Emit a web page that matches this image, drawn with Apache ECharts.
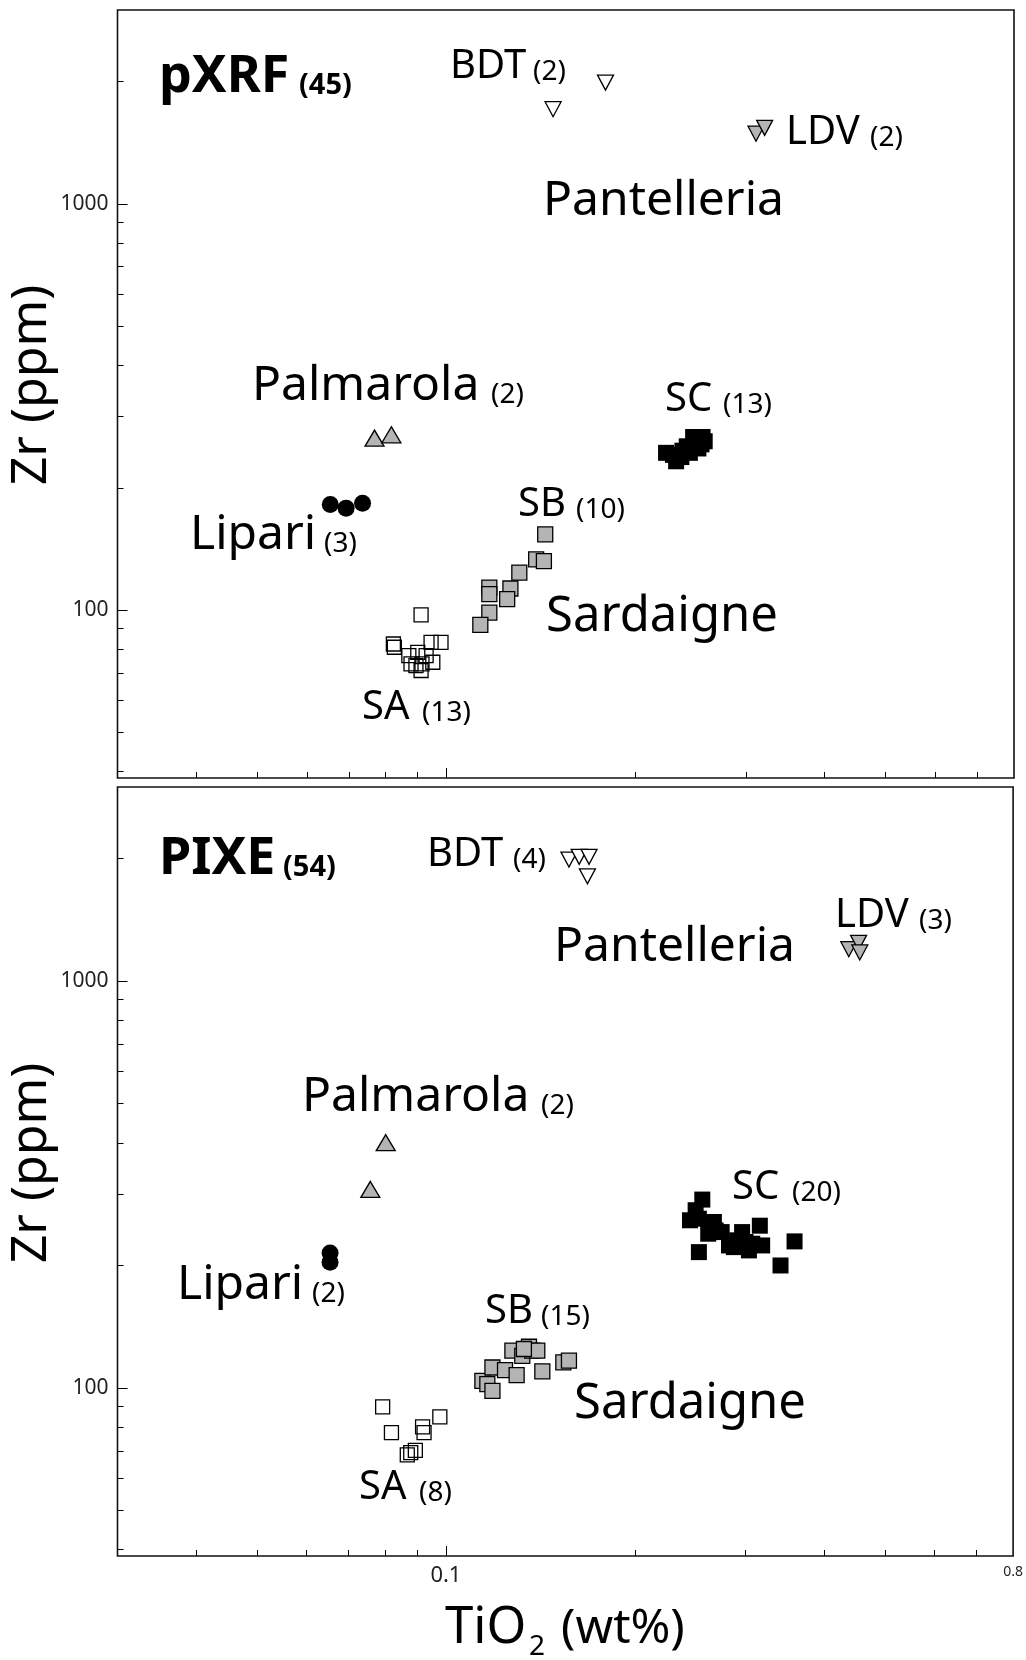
<!DOCTYPE html>
<html>
<head>
<meta charset="utf-8">
<script src="https://cdn.jsdelivr.net/npm/echarts@6/dist/echarts.min.js"></script>
<style>
  html, body { margin: 0; padding: 0; background: #fff; }
  #chart { width: 1026px; height: 1660px; }
</style>
</head>
<body>
<div id="chart"></div>
<script>
// TiO2 (wt%), Zr (ppm)
var pxrfSA = [[0.0912, 97.3], [0.0824, 82.5], [0.0827, 81.0], [0.0872, 77.2], [0.0901, 78.7], [0.0946, 83.3], [0.0981, 83.3],
	[0.0879, 73.7], [0.0915, 73.7], [0.0952, 74.4], [0.0912, 71.0], [0.0895, 73.0], [0.0929, 77.2]];
var pxrfSB = [[0.1437, 153.6], [0.1390, 133.3], [0.1430, 132.0], [0.1307, 123.7], [0.1265, 113.0], [0.1171, 113.6],
	[0.1171, 109.4], [0.1250, 106.4], [0.1171, 98.6], [0.1133, 91.9]];
var pxrfSC = [[0.2237, 243.8], [0.2294, 241], [0.2321, 232.4], [0.2366, 238], [0.2375, 246.8], [0.2413, 253], [0.2441, 243.8],
	[0.2470, 266.7], [0.2489, 258.8], [0.2518, 249.9], [0.2547, 255.8], [0.2577, 260.3], [0.2557, 266.7]];
var pxrfLipari = [[0.0654, 181.8], [0.0693, 178.2], [0.0736, 183.2]];
var pxrfPalmarola = [[0.0769, 265], [0.0818, 270]];
var pxrfBDT = [[0.1792, 1988], [0.1479, 1710]];
var pxrfLDV = [[0.311, 1488], [0.321, 1538]];

var pixeSA = [[0.0793, 89.8], [0.0819, 77.6], [0.0918, 80.2], [0.0923, 77.6], [0.0978, 84.8], [0.0868, 68.4], [0.0894, 70.2], [0.0879, 69.3]];
var pixeSB = [[0.1143, 104.0], [0.1164, 102.1], [0.1186, 98.3], [0.1186, 112.2], [0.1242, 110.6], [0.1296, 107.5], [0.1276, 123.4],
	[0.1323, 119.9], [0.1356, 126.2], [0.1372, 123.4], [0.1398, 123.4], [0.1424, 109.8], [0.1538, 115.5], [0.1570, 116.6], [0.1331, 124.6]];
var pixeSC = [[0.2560, 290.3], [0.2498, 273.3], [0.2447, 258.2], [0.2528, 260.5], [0.2671, 255.7], [0.2616, 239.3], [0.2748, 241.5],
	[0.2823, 223.9], [0.2962, 241.5], [0.2909, 230.5], [0.3037, 217.7], [0.2999, 228.3], [0.3161, 250.4], [0.3188, 223.9],
	[0.2528, 215.6], [0.3410, 199.9], [0.3590, 229.1], [0.2688, 243.8], [0.2875, 221.8], [0.3074, 226.1]];
var pixeLipari = [[0.0654, 214.5], [0.0654, 203.7]];
var pixePalmarola = [[0.0802, 400.6], [0.0758, 307.5]];
var pixeBDT = [[0.157, 1990], [0.163, 2020], [0.169, 2020], [0.168, 1810]];
var pixeLDV = [[0.438, 1198], [0.454, 1242], [0.456, 1176]];

// axis ticks
var xMajorTicks = [0.1];
var xMinorTicks = [0.04, 0.05, 0.06, 0.07, 0.08, 0.09, 0.2, 0.3, 0.4, 0.5, 0.6, 0.7];
var xTickLabels = [0.1, 0.8];
var yMajorTicks = [100, 1000];
var yMinorTicks = [40, 50, 60, 70, 80, 90, 200, 300, 400, 500, 600, 700, 800, 900, 2000];
var yTickLabels = [100, 1000];

var FONT = 'Noto Sans';
var GREY = '#b4b4b4';
var X_MIN = 0.03, X_MAX = 0.8, Y_MIN = 38.6, Y_MAX = 3000;

var chart = echarts.init(document.getElementById('chart'), null, { renderer: 'canvas' });

function xAxisFor(grid, minor, labels) {
	return {
		type: 'log', gridIndex: grid, position: 'bottom', min: X_MIN, max: X_MAX,
		axisLine: { show: false, onZero: false },
		splitLine: { show: false },
		axisTick: { show: true, inside: true, length: minor ? 6 : 10, customValues: minor ? xMinorTicks : xMajorTicks,
			lineStyle: { color: '#000', width: 1 } },
		axisLabel: labels ? {
			show: true, customValues: xTickLabels, margin: 9,
			formatter: function(v) { return v < 0.5 ? '{a|0.1}' : '{b|0.8}'; },
			rich: {
				a: { fontFamily: FONT, fontSize: 22, color: '#222' },
				b: { fontFamily: FONT, fontSize: 14, color: '#222' }
			}
		} : { show: false }
	};
}

function yAxisFor(grid, minor) {
	return {
		type: 'log', gridIndex: grid, position: 'left', min: Y_MIN, max: Y_MAX,
		axisLine: { show: false, onZero: false },
		splitLine: { show: false },
		axisTick: { show: true, inside: true, length: minor ? 6 : 10, customValues: minor ? yMinorTicks : yMajorTicks,
			lineStyle: { color: '#000', width: 1 } },
		axisLabel: minor ? { show: false } : {
			show: true, customValues: yTickLabels, margin: 9,
			fontFamily: FONT, fontSize: 21, color: '#222',
			formatter: function(v) { return String(Math.round(v)); }
		}
	};
}

function pts(data, grid, symbol, size, fill, rotate, border) {
	return {
		type: 'scatter', xAxisIndex: grid * 2, yAxisIndex: grid * 2,
		data: data, symbol: symbol, symbolSize: size, symbolRotate: rotate || 0,
		itemStyle: { color: fill, borderColor: '#000', borderWidth: border == null ? 1.3 : border, opacity: 1 },
		silent: true, z: 5
	};
}

// one text run, placed by its left edge and baseline
function txt(x, baseline, text, size, bold) {
	return {
		type: 'text', x: x, y: baseline - 0.388 * size, silent: true,
		style: { text: text, fontFamily: FONT, fontSize: size, fontWeight: bold ? 'bold' : 'normal',
			fill: '#000', align: 'left', verticalAlign: 'middle' }
	};
}

var labels = [
	// pXRF panel
	txt(159, 97, 'pXRF', 52, true), txt(299, 97, '(45)', 29, true),
	txt(450, 82, 'BDT', 40), txt(533, 83, '(2)', 28),
	txt(786, 148, 'LDV', 40), txt(870, 149, '(2)', 28),
	txt(543, 220, 'Pantelleria', 48),
	txt(252, 405, 'Palmarola', 48), txt(491, 406, '(2)', 28),
	txt(665, 415, 'SC', 40), txt(723, 416, '(13)', 28),
	txt(190, 554, 'Lipari', 48), txt(324, 555, '(3)', 28),
	txt(518, 520, 'SB', 40), txt(576, 521, '(10)', 28),
	txt(546, 636, 'Sardaigne', 49),
	txt(362, 723, 'SA', 40), txt(422, 724, '(13)', 28),
	// PIXE panel
	txt(159, 879, 'PIXE', 52, true), txt(283, 879, '(54)', 29, true),
	txt(427, 870, 'BDT', 40), txt(513, 871, '(4)', 28),
	txt(835, 931, 'LDV', 40), txt(919, 932, '(3)', 28),
	txt(554, 966, 'Pantelleria', 48),
	txt(302, 1116, 'Palmarola', 48), txt(541, 1117, '(2)', 28),
	txt(732, 1203, 'SC', 40), txt(792, 1204, '(20)', 28),
	txt(177, 1304, 'Lipari', 48), txt(312, 1305, '(2)', 28),
	txt(485, 1327, 'SB', 40), txt(541, 1328, '(15)', 28),
	txt(574, 1423, 'Sardaigne', 49),
	txt(359, 1503, 'SA', 40), txt(419, 1504, '(8)', 28),
	// x title
	txt(445, 1648, 'TiO', 51), txt(529, 1658, '2', 28), txt(561, 1648, '(wt%)', 48)
];

// rotated y titles
[385, 1163].forEach(function(cy) {
	labels.push({
		type: 'text', x: 32, y: cy, rotation: Math.PI / 2, silent: true,
		style: { text: 'Zr (ppm)', fontFamily: FONT, fontSize: 50, fill: '#000', align: 'center', verticalAlign: 'middle' }
	});
});

var option = {
	animation: false,
	backgroundColor: '#fff',
	grid: [
		{ left: 117.5, top: 10, width: 896.5, height: 768, show: true, borderColor: '#111', borderWidth: 1.6, backgroundColor: 'transparent' },
		{ left: 117.5, top: 787, width: 896.5, height: 769, show: true, borderColor: '#111', borderWidth: 1.6, backgroundColor: 'transparent' }
	],
	xAxis: [xAxisFor(0, false, false), xAxisFor(0, true, false), xAxisFor(1, false, true), xAxisFor(1, true, false)],
	yAxis: [yAxisFor(0, false), yAxisFor(0, true), yAxisFor(1, false), yAxisFor(1, true)],
	series: [
		pts(pxrfSA, 0, 'rect', 14, 'rgba(255,255,255,0)'),
		pts(pxrfSB, 0, 'rect', 15, GREY),
		pts(pxrfSC, 0, 'rect', 16, '#000', 0, 0),
		pts(pxrfLipari, 0, 'circle', 17, '#000', 0, 0),
		pts(pxrfPalmarola, 0, 'triangle', [19, 16], GREY),
		pts(pxrfBDT, 0, 'triangle', [16, 15], '#fff', 180),
		pts(pxrfLDV, 0, 'triangle', [16, 15], GREY, 180),
		pts(pixeSA, 1, 'rect', 14, 'rgba(255,255,255,0)'),
		pts(pixeSB, 1, 'rect', 15, GREY),
		pts(pixeSC, 1, 'rect', 16, '#000', 0, 0),
		pts(pixeLipari, 1, 'circle', 17, '#000', 0, 0),
		pts(pixePalmarola, 1, 'triangle', [19, 16], GREY),
		pts(pixeBDT, 1, 'triangle', [16, 15], '#fff', 180),
		pts(pixeLDV, 1, 'triangle', [16, 15], GREY, 180)
	],
	graphic: labels
};

chart.setOption(option);
</script>
</body>
</html>
